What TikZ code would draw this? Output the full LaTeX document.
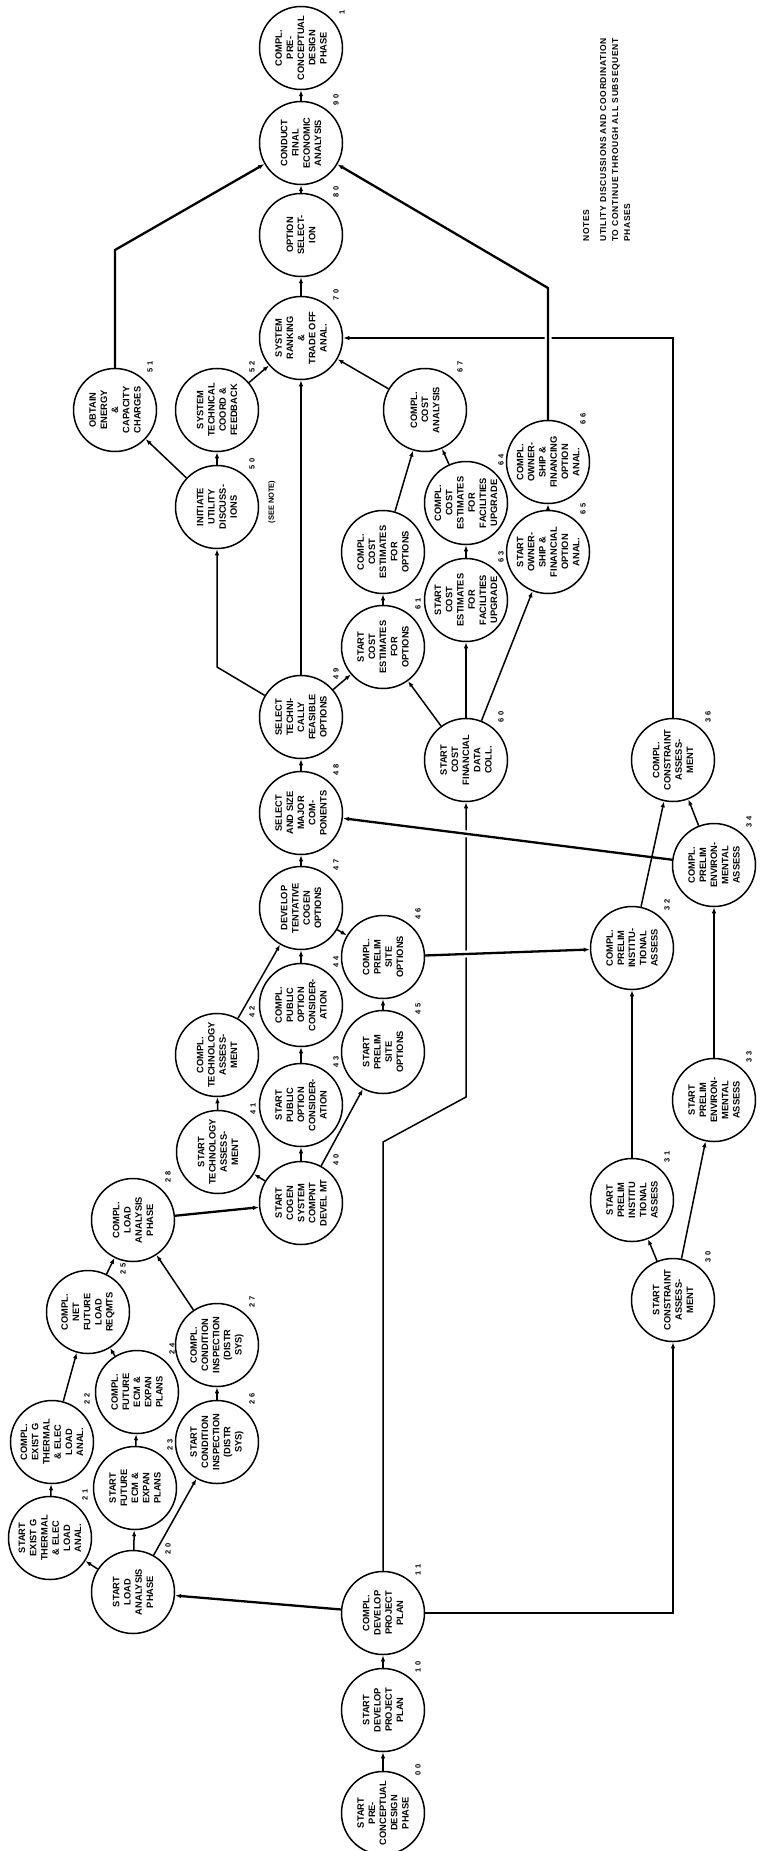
\documentclass[tikz,border=0pt]{standalone}
\usepackage{fontspec}
\setmainfont{Liberation Sans}
\usetikzlibrary{arrows.meta}

\begin{document}
\begin{tikzpicture}[x=1pt,y=-1pt,
  ev/.style={circle,draw,line width=1.5pt,minimum size=83pt,inner sep=0pt,rotate=90,
    align=center,font=\fontsize{9.3}{11.2}\selectfont\bfseries},
  num/.style={rotate=90,inner sep=0pt,font=\fontsize{7.5}{9}\selectfont\bfseries\addfontfeature{LetterSpace=40}},
  conn/.style={line width=1.5pt,-{Latex[length=6pt,width=4.5pt]}},
  heavy/.style={conn,line width=2.3pt},
  over/.style={preaction={draw=white,line width=7pt,-,shorten <=9pt,shorten >=9pt}}]
  \useasboundingbox (0,0) rectangle (760,1851);
  % Project plan
  \node[ev] (n00) at (383,1813) {START\\PRE-\\CONCEPTUAL\\DESIGN\\PHASE};
  \node[ev] (n10) at (383,1710) {START\\DEVELOP\\PROJECT\\PLAN};
  \node[ev] (n11) at (383,1613) {COMPL.\\DEVELOP\\PROJECT\\PLAN};
  % Load analysis
  \node[ev] (n20) at (133,1592) {START\\LOAD\\ANALYSIS\\PHASE};
  \node[ev] (n21) at (50,1538) {START\\EXIST G\\THERMAL\\\& ELEC\\LOAD\\ANAL.};
  \node[ev] (n22) at (52,1442) {COMPL.\\EXIST G\\THERMAL\\\& ELEC\\LOAD\\ANAL.};
  \node[ev] (n23) at (135,1488) {START\\FUTURE\\ECM \&\\EXPAN\\PLANS};
  \node[ev] (n24) at (137,1392) {COMPL.\\FUTURE\\ECM \&\\EXPAN\\PLANS};
  \node[ev] (n25) at (88,1312) {COMPL.\\NET\\FUTURE\\LOAD\\REQMTS};
  \node[ev] (n26) at (217,1442) {START\\CONDITION\\INSPECTION\\(DISTR\\SYS)};
  \node[ev] (n27) at (217,1345) {COMPL.\\CONDITION\\INSPECTION\\(DISTR\\SYS)};
  \node[ev] (n28) at (133,1220) {COMPL.\\LOAD\\ANALYSIS\\PHASE};
  % Constraint assessment
  \node[ev] (n30) at (673,1300) {START\\CONSTRAINT\\ASSESS-\\MENT};
  \node[ev] (n31) at (632,1200) {START\\PRELIM\\INSTITU\\TIONAL\\ASSESS};
  \node[ev] (n32) at (632,948) {COMPL.\\PRELIM\\INSTITU-\\TIONAL\\ASSESS};
  \node[ev] (n33) at (714,1100) {START\\PRELIM\\ENVIRON-\\MENTAL\\ASSESS};
  \node[ev] (n34) at (714,865) {COMPL.\\PRELIM\\ENVIRON-\\MENTAL\\ASSESS};
  \node[ev] (n36) at (673,760) {COMPL.\\CONSTRAINT\\ASSESS-\\MENT};
  % Cogen system development
  \node[ev] (n40) at (301,1203) {START\\COGEN\\SYSTEM\\COMPNT\\DEVEL MT};
  \node[ev] (n41) at (218,1152) {START\\TECHNOLOGY\\ASSESS-\\MENT};
  \node[ev] (n42) at (217,1055) {COMPL.\\TECHNOLOGY\\ASSESS-\\MENT};
  \node[ev] (n43) at (301,1105) {START\\PUBLIC\\OPTION\\CONSIDER-\\ATION};
  \node[ev] (n44) at (301,1005) {COMPL.\\PUBLIC\\OPTION\\CONSIDER-\\ATION};
  \node[ev] (n45) at (383,1052) {START\\PRELIM\\SITE\\OPTIONS};
  \node[ev] (n46) at (383,957) {COMPL.\\PRELIM\\SITE\\OPTIONS};
  \node[ev] (n47) at (301,908) {DEVELOP\\TENTATIVE\\COGEN\\OPTIONS};
  \node[ev] (n48) at (301,813) {SELECT\\AND SIZE\\MAJOR\\COM-\\PONENTS};
  \node[ev] (n49) at (301,717) {SELECT\\TECHNI-\\CALLY\\FEASIBLE\\OPTIONS};
  % Utility
  \node[ev] (n50) at (217,507) {INITIATE\\UTILITY\\DISCUSS-\\IONS};
  \node[ev] (n51) at (115,410) {OBTAIN\\ENERGY\\\&\\CAPACITY\\CHARGES};
  \node[ev] (n52) at (217,410) {SYSTEM\\TECHNICAL\\COORD \&\\FEEDBACK};
  % Cost analysis
  \node[ev] (n60) at (466,760) {START\\COST\\FINANCIAL\\DATA\\COLL.};
  \node[ev] (n61) at (383,647) {START\\COST\\ESTIMATES\\FOR\\OPTIONS};
  \node[ev] (n62) at (383,552) {COMPL.\\COST\\ESTIMATES\\FOR\\OPTIONS};
  \node[ev] (n63) at (466,600) {START\\COST\\ESTIMATES\\FOR\\FACILITIES\\UPGRADE};
  \node[ev] (n64) at (466,503) {COMPL.\\COST\\ESTIMATES\\FOR\\FACILITIES\\UPGRADE};
  \node[ev] (n65) at (548,552) {START\\OWNER-\\SHIP \&\\FINANCIAL\\OPTION\\ANAL.};
  \node[ev] (n66) at (548,462) {COMPL.\\OWNER-\\SHIP \&\\FINANCING\\OPTION\\ANAL.};
  \node[ev] (n67) at (425,410) {COMPL.\\COST\\ANALYSIS};
  % Selection
  \node[ev] (n70) at (301,338) {SYSTEM\\RANKING\\\&\\TRADE OFF\\ANAL.};
  \node[ev] (n80) at (301,235) {OPTION\\SELECT-\\ION};
  \node[ev] (n90) at (301,143) {CONDUCT\\FINAL\\ECONOMIC\\ANALYSIS};
  \node[ev] (n99) at (301,48) {COMPL.\\PRE-\\CONCEPTUAL\\DESIGN\\PHASE};
  % Event numbers
  \foreach \n/\t in {n00/00,n10/10,n11/11,n20/20,n21/21,n22/22,n23/23,n24/24,n25/25,
      n26/26,n27/27,n28/28,n30/30,n31/31,n32/32,n33/33,n34/34,n36/36,n40/40,n41/41,
      n42/42,n43/43,n44/44,n45/45,n46/46,n47/47,n48/48,n49/49,n50/50,n51/51,n52/52,
      n60/60,n61/61,n63/63,n64/64,n65/65,n66/66,n67/67,n70/70,n80/80,n90/90}
    \node[num] at ([shift={(35,-43)}]\n.center) {\t};
  \node[num] (n99num) at (342,12) {1};
  \node[rotate=90,inner sep=0pt,font=\fontsize{7.5}{9}\selectfont\bfseries] (seenote) at (272,502) {(SEE NOTE)};
  \node[rotate=90,anchor=north west,align=left,inner sep=0pt,
    font=\fontsize{8.5}{12}\selectfont\bfseries\addfontfeature{LetterSpace=8}] (notes) at (583,242)
    {NOTES\\[5pt]UTILITY DISCUSSIONS AND COORDINATION\\TO CONTINUE THROUGH ALL SUBSEQUENT\\PHASES};
  % Bend points
  \coordinate (c1) at (383,1142);
  \coordinate (c2) at (466,1097);
  \coordinate (b50) at (217,667);
  \coordinate (b51) at (115,250);
  \coordinate (b66) at (548,288);
  % Connectors
  \draw[conn] (n00) -- (n10);
  \draw[conn] (n10) -- (n11);
  \draw[heavy] (n11) -- (n20);
  \draw[conn] (n11) -- (c1) -- (c2) -- (n60);
  \draw[conn] (n11) -| (n30);
  \draw[conn] (n20) -- (n21);
  \draw[conn] (n20) -- (n23);
  \draw[conn] (n20) -- (n26);
  \draw[conn] (n21) -- (n22);
  \draw[conn] (n23) -- (n24);
  \draw[conn] (n26) -- (n27);
  \draw[conn] (n22) -- (n25);
  \draw[conn] (n24) -- (n25);
  \draw[conn] (n25) -- (n28);
  \draw[conn] (n27) -- (n28);
  \draw[heavy] (n28) -- (n40);
  \draw[conn] (n40) -- (n41);
  \draw[conn] (n40) -- (n43);
  \draw[conn] (n40) -- (n45);
  \draw[conn] (n41) -- (n42);
  \draw[conn] (n43) -- (n44);
  \draw[conn] (n45) -- (n46);
  \draw[conn] (n42) -- (n47);
  \draw[conn] (n44) -- (n47);
  \draw[conn] (n47) -- (n46);
  \draw[conn] (n47) -- (n48);
  \draw[conn] (n48) -- (n49);
  \draw[heavy,over] (n34) -- (n48);
  \draw[heavy,over] (n46) -- (n32);
  \draw[conn] (n30) -- (n31);
  \draw[conn] (n30) -- (n33);
  \draw[conn] (n31) -- (n32);
  \draw[conn] (n33) -- (n34);
  \draw[conn] (n32) -- (n36);
  \draw[conn] (n34) -- (n36);
  \draw[heavy] (n36) |- (n70);
  \draw[conn] (n49) -- (b50) -- (n50);
  \draw[conn] (n49) -- (n70);
  \draw[conn] (n49) -- (n61);
  \draw[conn] (n50) -- (n51);
  \draw[conn] (n50) -- (n52);
  \draw[conn] (n52) -- (n70);
  \draw[heavy] (n51) -- (b51) -- (n90);
  \draw[conn] (n60) -- (n61);
  \draw[conn] (n60) -- (n63);
  \draw[conn] (n60) -- (n65);
  \draw[conn] (n61) -- (n62);
  \draw[conn] (n63) -- (n64);
  \draw[conn] (n65) -- (n66);
  \draw[conn] (n62) -- (n67);
  \draw[conn] (n64) -- (n67);
  \draw[conn] (n67) -- (n70);
  \draw[heavy,over] (n66) -- (b66) -- (n90);
  \draw[conn] (n70) -- (n80);
  \draw[conn] (n80) -- (n90);
  \draw[conn] (n90) -- (n99);
\end{tikzpicture}
\end{document}
